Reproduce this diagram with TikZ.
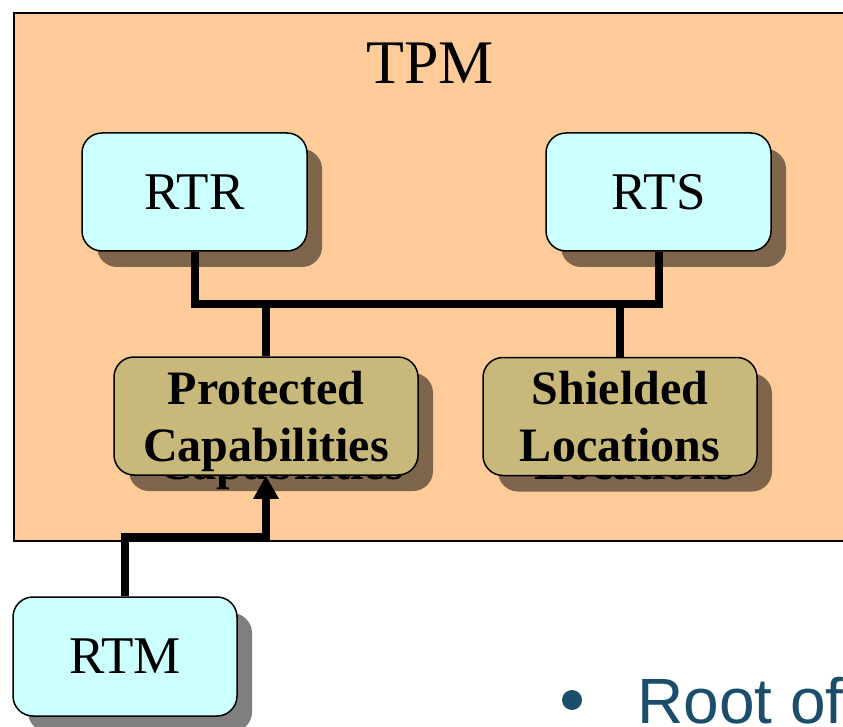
\documentclass[tikz,border=0pt]{standalone}
\usepackage{fontspec}
\setmainfont{Liberation Serif}
\newfontfamily\rootfont{Liberation Sans}
\usepackage{xcolor}
\usepackage{tikz}
\usetikzlibrary{arrows.meta,positioning,shadows}

\definecolor{tpmpeach}{HTML}{FFCC99}
\definecolor{rootcyan}{HTML}{CCFFFF}
\definecolor{captan}{HTML}{C8B87A}
\definecolor{bullettext}{HTML}{1A4E6B}

\begin{document}
\begin{tikzpicture}[x=1pt,y=-1pt,
  rootbox/.style={draw,line width=1.5pt,rounded corners=20pt,fill=rootcyan,minimum width=225pt,minimum height=118pt,inner sep=0pt,font=\fontsize{53}{60}\selectfont,
    drop shadow={shadow xshift=15pt,shadow yshift=-16pt,fill=black,opacity=0.5}},
  capbox/.style={draw,line width=1.5pt,rounded corners=20pt,fill=captan,minimum height=118pt,inner sep=0pt,align=center,text depth=0pt,font=\bfseries\fontsize{48}{57}\selectfont,
    drop shadow={shadow xshift=15pt,shadow yshift=-16pt,fill=black,opacity=0.5}},
  shadetext/.style={align=center,inner sep=0pt,text depth=0pt,font=\bfseries\fontsize{48}{57}\selectfont},
  conn/.style={line width=8pt,line join=miter}]
\useasboundingbox (0,0) rectangle (843,727);
\clip (0,0) rectangle (843,727);
% TPM frame
\node[draw,line width=2pt,fill=tpmpeach,anchor=north west,minimum width=860pt,minimum height=528pt] (tpm) at (13,12) {};
\node[font=\fontsize{62}{70}\selectfont] (tpmtitle) at (430,63) {TPM};
% roots inside the TPM
\node[rootbox] (rtr) at (194.5,192) {RTR};
\node[rootbox] (rts) at (658.5,192) {RTS};
% shadows of the text show under the boxes
\node[shadetext] (protshade) at (281,434) {Protected\\Capabilities};
\node[shadetext] (shieldshade) at (635,434) {Shielded\\Locations};
\node[capbox,minimum width=304pt] (prot) at (266,416) {Protected\\Capabilities};
\node[capbox,minimum width=274pt] (shield) at (620,416.5) {Shielded\\Locations};
\coordinate (bus) at (430,304);
\draw[conn] (rtr.south) |- (bus) -| (rts.south);
\draw[conn] (prot.north) -- (prot.north |- bus);
\draw[conn] (shield.north) -- (shield.north |- bus);
% measurement root outside
\node[rootbox,minimum width=224pt,minimum height=119pt] (rtm) at (125,656.5) {RTM};
\coordinate (rtmbend) at (200,537);
\draw[conn,-{Triangle[length=23pt,width=24pt]}] (rtm.north) |- (rtmbend) -| (prot.south);
% bullet text
\node[circle,fill=bullettext,minimum size=20pt,inner sep=0pt] (dot) at (572,700) {};
\node[anchor=base west,inner sep=0pt,text=bullettext,font=\rootfont\fontsize{64}{70}\selectfont] (rootof) at (637,723) {Root of};
\end{tikzpicture}
\end{document}
